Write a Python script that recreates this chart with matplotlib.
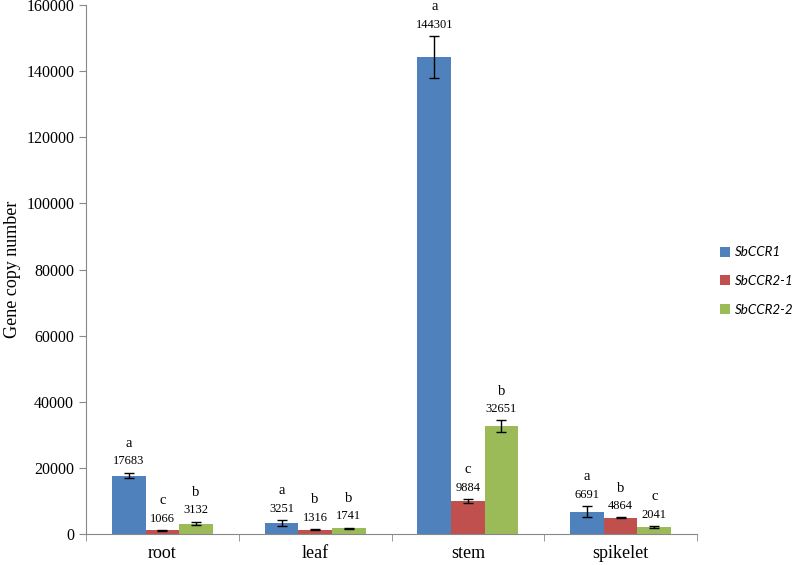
import numpy as np
import matplotlib.pyplot as plt

tissues = ['root', 'leaf', 'stem', 'spikelet']
genes = ['SbCCR1', 'SbCCR2-1', 'SbCCR2-2']
colors = ['#4F81BD', '#C0504D', '#9BBB59']

ccr1 = [17683, 3251, 144301, 6691]
ccr2_1 = [1066, 1316, 9884, 4864]
ccr2_2 = [3132, 1741, 32651, 2041]
ccr1_err = [850, 950, 6300, 1700]
ccr2_1_err = [100, 150, 600, 150]
ccr2_2_err = [500, 150, 1700, 350]
ccr1_sig = ['a', 'a', 'a', 'a']
ccr2_1_sig = ['c', 'b', 'c', 'b']
ccr2_2_sig = ['b', 'b', 'b', 'c']

values = [ccr1, ccr2_1, ccr2_2]
errors = [ccr1_err, ccr2_1_err, ccr2_2_err]
letters = [ccr1_sig, ccr2_1_sig, ccr2_2_sig]

plt.rcParams['font.family'] = 'Liberation Serif'

fig = plt.figure(figsize=(7.94, 5.65), dpi=100)
ax = fig.add_axes([86 / 794, 31 / 565, 611 / 794, 529 / 565])

x = np.arange(len(tissues))
w = 0.22
for i in range(3):
    pos = x + (i - 1) * w
    ax.bar(pos, values[i], w, color=colors[i], label=genes[i],
           yerr=errors[i], capsize=3.5, error_kw=dict(elinewidth=1, capthick=1, ecolor='black'))
    for j in range(len(tissues)):
        top = values[i][j] + errors[i][j]
        ax.annotate(str(values[i][j]), (pos[j], top), xytext=(0, 4), textcoords='offset points',
                    ha='center', va='bottom', fontsize=9)
        ax.annotate(letters[i][j], (pos[j], top), xytext=(0, 16.5), textcoords='offset points',
                    ha='center', va='bottom', fontsize=10.5)

ax.set_xlim(-0.5, len(tissues) - 0.5)
ax.set_ylim(0, 160000)
ax.set_yticks(np.arange(0, 160001, 20000))
ax.set_xticks(x)
ax.set_xticklabels(tissues, fontsize=13)
ax.tick_params(axis='x', length=0, pad=8)
ax.set_xticks(np.arange(-0.5, len(tissues), 1), minor=True)
ax.tick_params(axis='x', which='minor', length=5, color='#888888')
ax.tick_params(axis='y', labelsize=11.5, length=5, color='#888888')
ax.set_ylabel('Gene copy number', fontsize=13)
for s in ['top', 'right']:
    ax.spines[s].set_visible(False)
for s in ['left', 'bottom']:
    ax.spines[s].set_color('#888888')

fig.legend(loc='center left', bbox_to_anchor=(708 / 794, 1 - 281 / 565), frameon=False,
           prop={'family': 'Lato', 'style': 'italic', 'size': 9.6},
           handlelength=0.75, handleheight=0.75, handletextpad=0.35, labelspacing=1.25)

fig.savefig('out.png', dpi=100)
